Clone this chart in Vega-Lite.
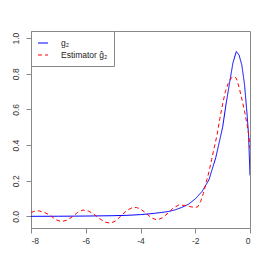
{
  "$schema": "https://vega.github.io/schema/vega-lite/v6.json",
  "width": 219,
  "height": 197,
  "autosize": {"type": "none"},
  "padding": {"left": 31, "top": 31, "right": 16, "bottom": 38},
  "background": "white",
  "config": {
    "view": {"stroke": "#888", "strokeWidth": 1},
    "font": "Liberation Sans"
  },
  "datasets": {
    "pts": [
      {"x": -8, "y": 0.0005, "series": "g₂"},
      {"x": -7, "y": 0.001, "series": "g₂"},
      {"x": -6, "y": 0.002, "series": "g₂"},
      {"x": -5, "y": 0.004, "series": "g₂"},
      {"x": -4.5, "y": 0.006, "series": "g₂"},
      {"x": -4, "y": 0.01, "series": "g₂"},
      {"x": -3.5, "y": 0.017, "series": "g₂"},
      {"x": -3, "y": 0.027, "series": "g₂"},
      {"x": -2.75, "y": 0.036, "series": "g₂"},
      {"x": -2.5, "y": 0.05, "series": "g₂"},
      {"x": -2.25, "y": 0.068, "series": "g₂"},
      {"x": -2, "y": 0.098, "series": "g₂"},
      {"x": -1.75, "y": 0.14, "series": "g₂"},
      {"x": -1.5, "y": 0.205, "series": "g₂"},
      {"x": -1.25, "y": 0.33, "series": "g₂"},
      {"x": -1.0, "y": 0.5, "series": "g₂"},
      {"x": -0.875, "y": 0.63, "series": "g₂"},
      {"x": -0.75, "y": 0.745, "series": "g₂"},
      {"x": -0.625, "y": 0.86, "series": "g₂"},
      {"x": -0.5, "y": 0.925, "series": "g₂"},
      {"x": -0.4, "y": 0.905, "series": "g₂"},
      {"x": -0.3, "y": 0.85, "series": "g₂"},
      {"x": -0.2, "y": 0.74, "series": "g₂"},
      {"x": -0.1, "y": 0.56, "series": "g₂"},
      {"x": -0.05, "y": 0.45, "series": "g₂"},
      {"x": 0, "y": 0.23, "series": "g₂"},
      {"x": -8, "y": 0.022, "series": "Estimator ĝ₂"},
      {"x": -7.85, "y": 0.03, "series": "Estimator ĝ₂"},
      {"x": -7.7, "y": 0.031, "series": "Estimator ĝ₂"},
      {"x": -7.5, "y": 0.022, "series": "Estimator ĝ₂"},
      {"x": -7.3, "y": 0.006, "series": "Estimator ĝ₂"},
      {"x": -7.1, "y": -0.018, "series": "Estimator ĝ₂"},
      {"x": -6.9, "y": -0.029, "series": "Estimator ĝ₂"},
      {"x": -6.7, "y": -0.022, "series": "Estimator ĝ₂"},
      {"x": -6.5, "y": -0.003, "series": "Estimator ĝ₂"},
      {"x": -6.3, "y": 0.022, "series": "Estimator ĝ₂"},
      {"x": -6.1, "y": 0.036, "series": "Estimator ĝ₂"},
      {"x": -5.9, "y": 0.03, "series": "Estimator ĝ₂"},
      {"x": -5.7, "y": 0.012, "series": "Estimator ĝ₂"},
      {"x": -5.5, "y": -0.012, "series": "Estimator ĝ₂"},
      {"x": -5.3, "y": -0.032, "series": "Estimator ĝ₂"},
      {"x": -5.1, "y": -0.038, "series": "Estimator ĝ₂"},
      {"x": -4.9, "y": -0.025, "series": "Estimator ĝ₂"},
      {"x": -4.7, "y": 0.005, "series": "Estimator ĝ₂"},
      {"x": -4.5, "y": 0.033, "series": "Estimator ĝ₂"},
      {"x": -4.3, "y": 0.049, "series": "Estimator ĝ₂"},
      {"x": -4.15, "y": 0.05, "series": "Estimator ĝ₂"},
      {"x": -4.0, "y": 0.042, "series": "Estimator ĝ₂"},
      {"x": -3.8, "y": 0.018, "series": "Estimator ĝ₂"},
      {"x": -3.6, "y": -0.008, "series": "Estimator ĝ₂"},
      {"x": -3.4, "y": -0.02, "series": "Estimator ĝ₂"},
      {"x": -3.2, "y": -0.008, "series": "Estimator ĝ₂"},
      {"x": -3.0, "y": 0.018, "series": "Estimator ĝ₂"},
      {"x": -2.8, "y": 0.048, "series": "Estimator ĝ₂"},
      {"x": -2.6, "y": 0.064, "series": "Estimator ĝ₂"},
      {"x": -2.4, "y": 0.062, "series": "Estimator ĝ₂"},
      {"x": -2.2, "y": 0.055, "series": "Estimator ĝ₂"},
      {"x": -2.0, "y": 0.05, "series": "Estimator ĝ₂"},
      {"x": -1.9, "y": 0.055, "series": "Estimator ĝ₂"},
      {"x": -1.8, "y": 0.085, "series": "Estimator ĝ₂"},
      {"x": -1.7, "y": 0.13, "series": "Estimator ĝ₂"},
      {"x": -1.6, "y": 0.19, "series": "Estimator ĝ₂"},
      {"x": -1.5, "y": 0.25, "series": "Estimator ĝ₂"},
      {"x": -1.4, "y": 0.32, "series": "Estimator ĝ₂"},
      {"x": -1.3, "y": 0.39, "series": "Estimator ĝ₂"},
      {"x": -1.2, "y": 0.46, "series": "Estimator ĝ₂"},
      {"x": -1.1, "y": 0.55, "series": "Estimator ĝ₂"},
      {"x": -1.0, "y": 0.63, "series": "Estimator ĝ₂"},
      {"x": -0.9, "y": 0.7, "series": "Estimator ĝ₂"},
      {"x": -0.8, "y": 0.745, "series": "Estimator ĝ₂"},
      {"x": -0.7, "y": 0.775, "series": "Estimator ĝ₂"},
      {"x": -0.6, "y": 0.785, "series": "Estimator ĝ₂"},
      {"x": -0.5, "y": 0.775, "series": "Estimator ĝ₂"},
      {"x": -0.4, "y": 0.725, "series": "Estimator ĝ₂"},
      {"x": -0.3, "y": 0.66, "series": "Estimator ĝ₂"},
      {"x": -0.2, "y": 0.59, "series": "Estimator ĝ₂"},
      {"x": -0.1, "y": 0.51, "series": "Estimator ĝ₂"},
      {"x": -0.04, "y": 0.45, "series": "Estimator ĝ₂"},
      {"x": 0, "y": 0.38, "series": "Estimator ĝ₂"}
    ]
  },
  "data": {"name": "pts"},
  "mark": {"type": "line", "strokeWidth": 1, "clip": true},
  "encoding": {
    "x": {
      "field": "x",
      "type": "quantitative",
      "scale": {"domain": [-8, 0], "nice": false, "zero": false},
      "axis": {
        "values": [-8, -6, -4, -2, 0],
        "labelExpr": "'' + datum.value",
        "grid": false,
        "domain": false,
        "tickColor": "#888",
        "tickSize": 5,
        "labelFontSize": 8.5,
        "labelColor": "#333",
        "labelPadding": 3,
        "title": null
      }
    },
    "y": {
      "field": "y",
      "type": "quantitative",
      "scale": {"domain": [-0.065, 1.04], "nice": false, "zero": false},
      "axis": {
        "values": [0, 0.2, 0.4, 0.6, 0.8, 1.0],
        "format": ".1f",
        "grid": false,
        "domain": false,
        "tickColor": "#888",
        "tickSize": 5,
        "labelFontSize": 8.5,
        "labelColor": "#333",
        "labelAngle": 270,
        "labelAlign": "center",
        "labelBaseline": "bottom",
        "labelPadding": 6,
        "title": null
      }
    },
    "color": {
      "field": "series",
      "type": "nominal",
      "scale": {"domain": ["g₂", "Estimator ĝ₂"], "range": ["#0000ff", "#ff0000"]},
      "legend": {
        "title": null,
        "orient": "top-left",
        "offset": 0,
        "padding": 6,
        "strokeColor": "#888",
        "fillColor": "white",
        "symbolType": "stroke",
        "symbolSize": 100,
        "symbolStrokeWidth": 1.1,
        "labelFontSize": 8.5,
        "labelColor": "#222",
        "labelOffset": 12,
        "rowPadding": 1
      }
    },
    "strokeDash": {
      "field": "series",
      "type": "nominal",
      "scale": {"domain": ["g₂", "Estimator ĝ₂"], "range": [[1, 0], [4, 3]]},
      "legend": {
        "title": null,
        "orient": "top-left",
        "offset": 0,
        "padding": 6,
        "strokeColor": "#888",
        "fillColor": "white",
        "symbolType": "stroke",
        "symbolSize": 100,
        "symbolStrokeWidth": 1.1,
        "labelFontSize": 8.5,
        "labelColor": "#222",
        "labelOffset": 12,
        "rowPadding": 1
      }
    }
  }
}
